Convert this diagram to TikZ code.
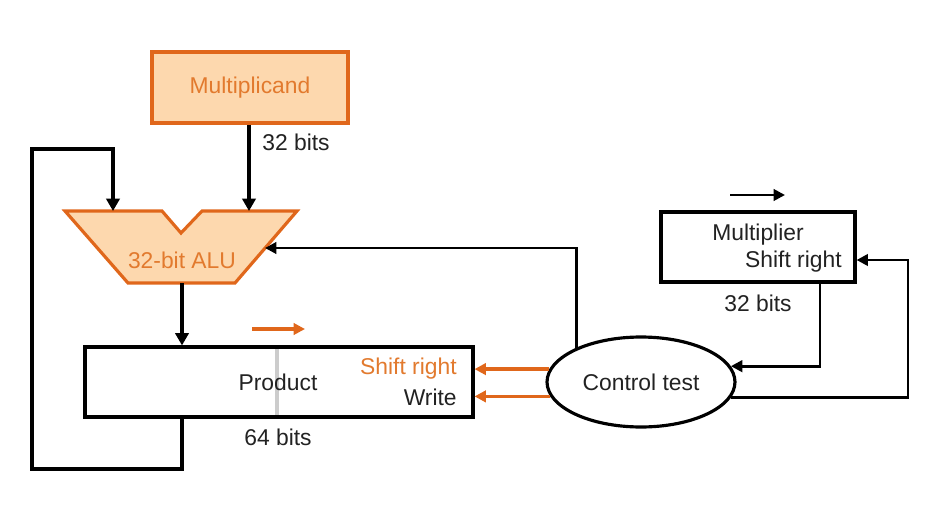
\documentclass[tikz,border=0pt]{standalone}
\usepackage{fontspec}
\setmainfont{Liberation Sans}
\usetikzlibrary{arrows.meta,shapes.geometric}
\definecolor{ofill}{HTML}{FDD8AE}
\definecolor{oline}{HTML}{E0671B}
\definecolor{otext}{HTML}{E27A2E}
\definecolor{dtext}{HTML}{222222}
\tikzset{
  lbl/.style={font=\fontsize{13pt}{15pt}\selectfont, text=dtext, inner sep=0pt},
  olbl/.style={lbl, text=otext},
  thick wire/.style={line width=2.6pt, black},
  thin wire/.style={line width=1.6pt, black},
  bigtip/.style={-{Triangle[length=7pt,width=7.5pt]}},
  smalltip/.style={-{Triangle[length=6.5pt,width=6.5pt]}},
  obox/.style={draw=oline, fill=ofill, line width=1.8pt},
  bbox/.style={draw=black, line width=1.8pt, fill=white},
  oarrow/.style={draw=oline, line width=2pt, -{Triangle[length=6.5pt,width=6.5pt]}},
}
\begin{document}
\begin{tikzpicture}[x=0.02cm,y=-0.02cm]
\useasboundingbox (0,0) rectangle (943,524);

% Multiplicand
\node[obox, minimum width=3.92cm, minimum height=1.42cm, olbl] (mcand) at (250,87.5) {Multiplicand};

% ALU
\coordinate (aluL) at (113,211);
\coordinate (aluR) at (249,211);
\coordinate (aluIn) at (265,248);
\coordinate (aluOut) at (182,283);
\draw[obox, line join=miter] (65,211) -- (162,211) -- (181,233) -- (202,211) -- (297,211)
  -- (235,283) -- (128,283) -- cycle;
\node[olbl] (alutext) at (182,260) {32-bit ALU};

% Product
\node[bbox, minimum width=7.76cm, minimum height=1.4cm] (product) at (279,382) {};
\draw[line width=2pt, black!20] (277,349) -- (277,415);
\node[lbl] (prodtext) at (278,382) {Product};
\node[olbl, anchor=east] (psr) at (457,369) {Shift right};
\node[lbl, anchor=east] (pw) at (457,397) {Write};
\node[lbl] (b64) at (278,437) {64 bits};

% Multiplier
\node[bbox, minimum width=3.88cm, minimum height=1.4cm] (mult) at (758,247) {};
\node[lbl] (mtext) at (758,235) {Multiplier};
\node[lbl, anchor=east] (msr) at (842,262) {Shift right};
\node[lbl] (b32r) at (758,303) {32 bits};

% Control
\node[draw, ellipse, line width=1.8pt, minimum width=3.76cm, minimum height=1.8cm, lbl, fill=white] (ctrl) at (641,382) {Control test};

% Connectors
\draw[thick wire, bigtip] (mcand.south -| aluR) -- (aluR);
\node[lbl, anchor=west] (b32) at (262,142) {32 bits};
\draw[thick wire, bigtip] (aluOut) -- (aluOut |- product.north);
\coordinate (lp1) at (32,469);
\coordinate (lp2) at (32,149);
\draw[thick wire, bigtip, line join=miter] (aluOut |- product.south) -- (aluOut |- lp1) -- (lp1) -- (lp2) -- (lp2 -| aluL) -- (aluL);

\draw[thin wire, smalltip] (ctrl.152) |- (aluIn);
\draw[oarrow] (ctrl.172) -- (ctrl.172 -| product.east);
\draw[oarrow] (ctrl.189) -- (ctrl.189 -| product.east);
\coordinate (mb) at (820,282);
\draw[thin wire, smalltip] (mb) |- (ctrl.10);
\coordinate (rr) at (908,260);
\draw[thin wire, smalltip] (ctrl.-10) -| (rr) -- (rr -| mult.east);

% shift direction arrows
\coordinate (oa1) at (252,329);
\coordinate (oa2) at (305,329);
\draw[oarrow] (oa1) -- (oa2);
\coordinate (ba1) at (730,195);
\coordinate (ba2) at (785,195);
\draw[thin wire, smalltip] (ba1) -- (ba2);
\end{tikzpicture}
\end{document}
